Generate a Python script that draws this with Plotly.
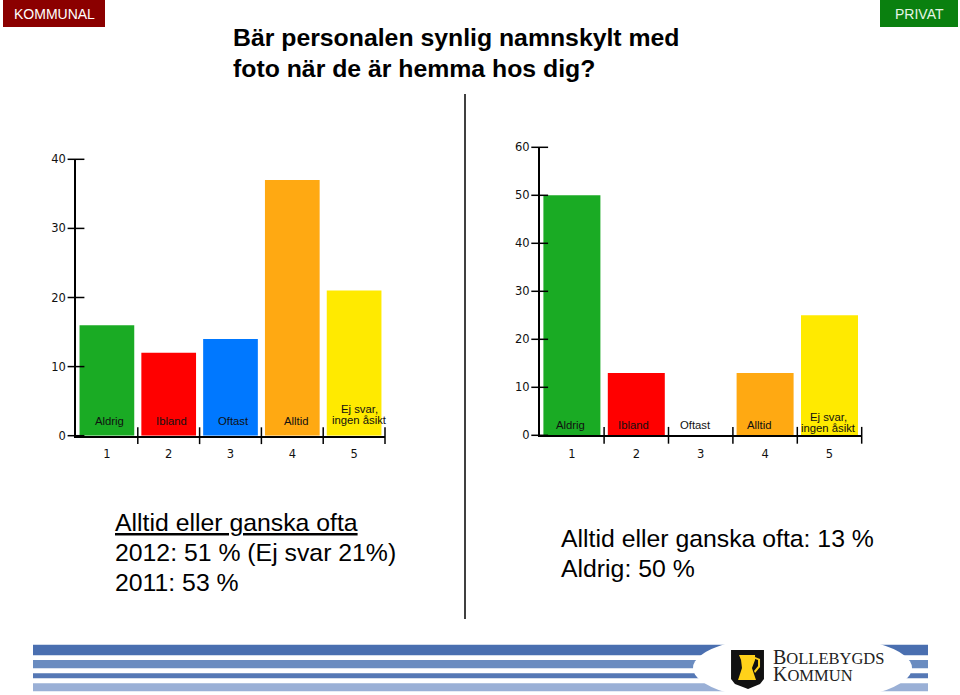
import plotly.graph_objects as go

W, H = 960, 695
SANS = 'Liberation Sans'
SERIF = 'Liberation Serif'
TICK_FONT = dict(family='DejaVu Sans', size=11.5, color='#111111')

categories = [1, 2, 3, 4, 5]
left_values = [16, 12, 14, 37, 21]
right_values = [50, 13, 0, 13, 25]
left_yticks = [0, 10, 20, 30, 40]
right_yticks = [0, 10, 20, 30, 40, 50, 60]
boundaries = [1.5, 2.5, 3.5, 4.5, 5.5]
bar_colors = ['#1aab24', '#ff0000', '#0078ff', '#ffa912', '#ffea00']
bar_labels = ['Aldrig', 'Ibland', 'Oftast', 'Alltid', 'Ej svar,<br>ingen åsikt']


def px(x):
    return x / W


def py(y):
    return 1 - y / H


def rect(x0, y0, x1, y1, color):
    return dict(type='rect', xref='paper', yref='paper', x0=px(x0), x1=px(x1),
                y0=py(y0), y1=py(y1), fillcolor=color, line_width=0, layer='below')


def path(points, color):
    d = 'M ' + ' L '.join(f'{px(x):.4f},{py(y):.4f}' for x, y in points) + ' Z'
    return dict(type='path', xref='paper', yref='paper', path=d, fillcolor=color,
                line_width=0, layer='below')


def text(x, y, s, size, anchor='left', family=SANS, color='black'):
    return dict(xref='paper', yref='paper', x=px(x), y=py(y), text=s, showarrow=False,
                xanchor=anchor, yanchor='middle', align=anchor,
                font=dict(family=family, size=size, color=color))


fig = go.Figure()


def add_panel(values, yticks, xa, ya):
    fig.add_trace(go.Bar(x=categories, y=values, width=0.885, marker_color=bar_colors,
                         marker_line_width=0, xaxis=xa, yaxis=ya))
    # the source ticks cross the axis lines, which axis ticks can't do
    fig.add_trace(go.Scatter(x=boundaries, y=[0] * len(boundaries), mode='markers', cliponaxis=False,
                             marker=dict(symbol='line-ns', size=12, line=dict(width=1.5, color='black')),
                             xaxis=xa, yaxis=ya))
    fig.add_trace(go.Scatter(x=[0.5] * len(yticks), y=yticks, mode='markers', cliponaxis=False,
                             marker=dict(symbol='line-ew', size=12, line=dict(width=1.5, color='black')),
                             xaxis=xa, yaxis=ya))


add_panel(left_values, left_yticks, 'x', 'y')
add_panel(right_values, right_yticks, 'x2', 'y2')

xaxis_style = dict(range=[0.5, 5.5], tickvals=categories, ticks='outside', ticklen=7, automargin=False,
                   tickcolor='rgba(0,0,0,0)', showgrid=False, zeroline=False, showline=True,
                   linecolor='black', linewidth=1.5, tickfont=TICK_FONT)
yaxis_style = dict(ticks='outside', ticklen=6, tickcolor='rgba(0,0,0,0)', showgrid=False, automargin=False,
                   zeroline=False, showline=True, linecolor='black', linewidth=1.5,
                   tickfont=TICK_FONT)

fig.update_layout(
    width=W, height=H, margin=dict(t=0, r=0, b=0, l=0), showlegend=False,
    paper_bgcolor='white', plot_bgcolor='rgba(0,0,0,0)',
    xaxis=dict(domain=[px(76), px(385)], anchor='y', **xaxis_style),
    yaxis=dict(domain=[py(435.7), py(159.3)], anchor='x', range=[0, 40], tickvals=left_yticks, **yaxis_style),
    xaxis2=dict(domain=[px(539.7), px(861.7)], anchor='y2', **xaxis_style),
    yaxis2=dict(domain=[py(435.3), py(147.3)], anchor='x2', range=[0, 60], tickvals=right_yticks, **yaxis_style),
)

shapes = [
    rect(3, 0, 105, 27, '#8b0000'),
    rect(880, 0, 958, 27, '#0a800f'),
    dict(type='line', xref='paper', yref='paper', x0=px(465), x1=px(465), y0=py(94), y1=py(619),
         line=dict(color='black', width=1.5)),
    # footer stripes
    rect(33, 644.7, 928, 655.3, '#4a6fb0'),
    rect(33, 660, 928, 668.3, '#6a8cc0'),
    rect(33, 673.3, 928, 678.3, '#5578b5'),
    rect(33, 683.3, 928, 691.3, '#9ab0d6'),
    dict(type='circle', xref='paper', yref='paper', x0=px(693), x1=px(912), y0=py(702), y1=py(634),
         fillcolor='white', line_width=0, layer='below'),
    # logo shield and jug
    path([(731, 650), (764, 650), (764, 679), (760, 684), (748, 689), (735, 684), (731, 679)], '#111111'),
    path([(739, 655), (755, 655), (755, 660), (752, 668), (756, 680), (738, 680), (742, 668), (741, 660)], '#ffd21a'),
    path([(755, 657), (760, 659), (760, 667), (755, 673), (754, 671), (758, 666), (758, 660), (755, 659)], '#ffd21a'),
]

annotations = [
    text(54, 13.5, 'KOMMUNAL', 14, 'center', color='white'),
    text(919, 13.5, 'PRIVAT', 14, 'center', color='#e6f5e6'),
    text(231, 38, '<b>Bär personalen synlig namnskylt med</b>', 24.8),
    text(231, 68, '<b>foto när de är hemma hos dig?</b>', 24.8),
    text(113, 522, '<u>Alltid eller ganska ofta</u>', 24.8),
    text(113, 552, '2012: 51 % (Ej svar 21%)', 24.8),
    text(113, 582, '2011: 53 %', 24.8),
    text(559, 538, 'Alltid eller ganska ofta: 13 %', 24.8),
    text(559, 568, 'Aldrig: 50 %', 24.8),
    text(771, 665.5, '<span style="font-size:20px">B</span><span style="font-size:16.5px">OLLEBYGDS</span><br>'
         '<span style="font-size:20px">K</span><span style="font-size:16.5px">OMMUN</span>',
         13, family=SERIF, color='#222222'),
]


def add_bar_labels(xs, y_single, y_first):
    for x, label in zip(xs, bar_labels):
        lines = label.split('<br>')
        if len(lines) == 1:
            annotations.append(text(x, y_single, label, 11.3, 'center', color='#111111'))
        else:
            for i, line in enumerate(lines):
                annotations.append(text(x, y_first + i * 11, line, 11.3, 'center', color='#111111'))


add_bar_labels([109, 171.3, 233.7, 296.7, 359], 421, 409)
add_bar_labels([570.7, 633, 695.7, 759, 828], 425, 417)

fig.update_layout(shapes=shapes, annotations=annotations)
# page body has an 8px default margin, the figure has to start at the corner
fig.write_html('out.html', config=dict(displayModeBar=False),
               post_script="document.body.style.margin = '0';")
